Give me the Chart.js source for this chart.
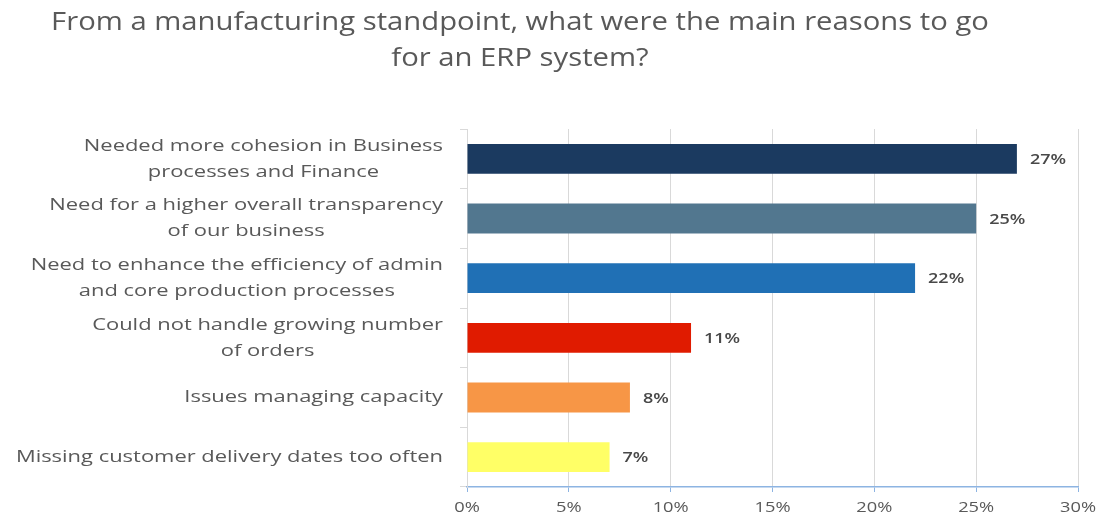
<!DOCTYPE html>
<html>
<head>
<meta charset="utf-8">
<script src="https://cdn.jsdelivr.net/npm/chart.js@4/dist/chart.umd.min.js"></script>
<style>
  html, body { margin: 0; padding: 0; background: #ffffff; }
  #wrap { width: 1098px; height: 517px; position: relative; }
</style>
</head>
<body>
<div id="wrap"><canvas id="chart" width="1098" height="517"></canvas></div>
<script>
// Survey: main manufacturing reasons for choosing an ERP system (% of respondents)
const titleLines = [
  'From a manufacturing standpoint, what were the main reasons to go',
  'for an ERP system?'
];
const categories = [
  ['Needed more cohesion in Business', 'processes and Finance'],
  ['Need for a higher overall transparency', 'of our business'],
  ['Need to enhance the efficiency of admin', 'and core production processes'],
  ['Could not handle growing number', 'of orders'],
  ['Issues managing capacity'],
  ['Missing customer delivery dates too often']
];
const shares = [27, 25, 22, 11, 8, 7];
const barColors = ['#1b3a60', '#52778f', '#2070b5', '#e01b00', '#f79646', '#ffff66'];
const xTicks = [0, 5, 10, 15, 20, 25, 30];

const TEXT = '#595959';
const FAMILY = '"Open Sans", sans-serif';

// Draw text with a horizontal stretch (wide face)
function wideText(ctx, text, x, y, sx, align) {
  ctx.save();
  ctx.translate(x, y);
  ctx.scale(sx, 1);
  ctx.textAlign = align;
  ctx.fillText(text, 0, 0);
  ctx.restore();
}

// Title centred over the left part of the canvas
const titlePlugin = {
  id: 'surveyTitle',
  afterDraw(chart) {
    const ctx = chart.ctx;
    ctx.save();
    ctx.fillStyle = TEXT;
    ctx.font = '25px ' + FAMILY;
    ctx.textBaseline = 'middle';
    titleLines.forEach((t, i) => wideText(ctx, t, 520, 23 + i * 36, 1.17, 'center'));
    ctx.restore();
  }
};

// Category labels: block right-aligned to the axis, lines centred within the block
const categoryLabelPlugin = {
  id: 'categoryLabels',
  afterDraw(chart) {
    const ctx = chart.ctx;
    const y = chart.scales.y;
    const sx = 1.29;
    const right = y.right - 24;
    const lineH = 26;
    ctx.save();
    ctx.fillStyle = TEXT;
    ctx.font = '17px ' + FAMILY;
    ctx.textBaseline = 'middle';
    categories.forEach((lines, i) => {
      const cy = y.getPixelForValue(i);
      const w = Math.max(...lines.map(l => ctx.measureText(l).width)) * sx;
      const cx = right - w / 2;
      const top = cy - (lines.length - 1) * lineH / 2;
      lines.forEach((l, j) => wideText(ctx, l, cx, top + j * lineH, sx, 'center'));
    });
    ctx.restore();
  }
};

// Percentage tick labels under the x axis
const xTickLabelPlugin = {
  id: 'xTickLabels',
  afterDraw(chart) {
    const ctx = chart.ctx;
    const x = chart.scales.x;
    ctx.save();
    ctx.fillStyle = TEXT;
    ctx.font = '15px ' + FAMILY;
    ctx.textBaseline = 'middle';
    xTicks.forEach(v => wideText(ctx, v + '%', x.getPixelForValue(v), x.top + 21, 1.22, 'center'));
    ctx.restore();
  }
};

// Percentage labels to the right of each bar
const valueLabelPlugin = {
  id: 'valueLabels',
  afterDatasetsDraw(chart) {
    const ctx = chart.ctx;
    const meta = chart.getDatasetMeta(0);
    ctx.save();
    ctx.fillStyle = '#484848';
    ctx.font = '600 15px ' + FAMILY;
    ctx.textBaseline = 'middle';
    meta.data.forEach((bar, i) => {
      wideText(ctx, shares[i] + '%', bar.x + 13, bar.y + 1, 1.2, 'left');
    });
    ctx.restore();
  }
};

new Chart(document.getElementById('chart'), {
  type: 'bar',
  data: {
    labels: categories.map(c => c.join(' ')),
    datasets: [{
      data: shares,
      backgroundColor: barColors,
      borderWidth: 0,
      barPercentage: 0.5,
      categoryPercentage: 1.0
    }]
  },
  options: {
    indexAxis: 'y',
    responsive: false,
    animation: false,
    layout: { padding: { top: 129, right: 20, left: 0, bottom: 0 } },
    plugins: {
      legend: { display: false },
      title: { display: false },
      tooltip: { enabled: false }
    },
    scales: {
      x: {
        min: 0,
        max: 30,
        afterBuildTicks(scale) { scale.ticks = xTicks.map(v => ({ value: v })); },
        afterFit(scale) { scale.height = 30; },
        border: { color: '#8db4e2', width: 1.5 },
        grid: { color: '#d9d9d9', tickColor: '#8db4e2', tickLength: 5, drawTicks: true },
        ticks: { display: false }
      },
      y: {
        offset: true,
        afterFit(scale) { scale.width = 467; },
        border: { color: '#d9d9d9', width: 1 },
        grid: { drawOnChartArea: false, offset: true, tickLength: 7, color: '#d9d9d9' },
        ticks: { display: false }
      }
    }
  },
  plugins: [titlePlugin, categoryLabelPlugin, xTickLabelPlugin, valueLabelPlugin]
});
</script>
</body>
</html>
